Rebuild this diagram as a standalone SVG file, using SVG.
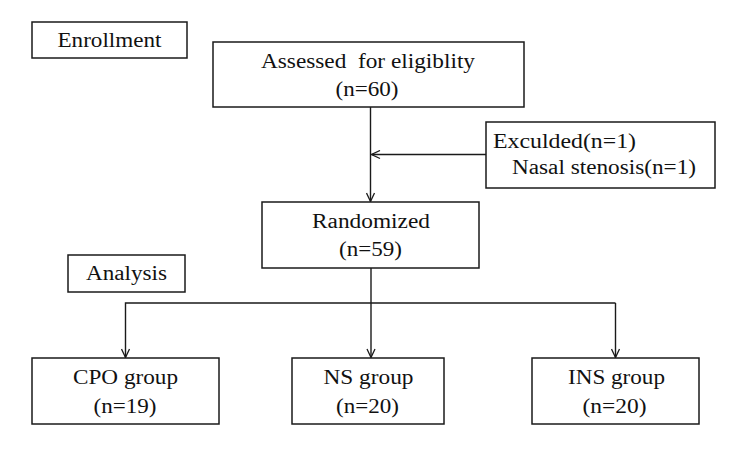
<svg xmlns="http://www.w3.org/2000/svg" width="750" height="455" viewBox="0 0 750 455">
  <style>
    .box { fill: #ffffff; stroke: #1a1a1a; stroke-width: 1.5; }
    .wire { fill: none; stroke: #1a1a1a; stroke-width: 1.4; }
  </style>
  <defs>
    <marker id="arrow" viewBox="0 0 10 10" refX="9.5" refY="5" markerWidth="10" markerHeight="10" markerUnits="userSpaceOnUse" orient="auto">
      <path d="M1,1 L9.5,5 L1,9" fill="none" stroke="#1a1a1a" stroke-width="1.3"/>
    </marker>
  </defs>
  <rect width="750" height="455" fill="#ffffff"/>

  <g font-family="'Liberation Serif', 'Times New Roman', serif" font-size="20" fill="#111111" text-anchor="middle">
    <!-- stage labels -->
    <g id="enrollment">
      <rect class="box" x="32" y="22" width="155" height="36"/>
      <text x="109.5" y="47" textLength="104" lengthAdjust="spacingAndGlyphs">Enrollment</text>
    </g>
    <g id="analysis">
      <rect class="box" x="68" y="255" width="117" height="37"/>
      <text x="126.5" y="280" textLength="81" lengthAdjust="spacingAndGlyphs">Analysis</text>
    </g>

    <!-- flow nodes -->
    <g id="assessed">
      <rect class="box" x="213" y="42" width="311" height="65"/>
      <text x="368" y="68" textLength="214" lengthAdjust="spacingAndGlyphs" xml:space="preserve">Assessed  for eligiblity</text>
      <text x="367" y="96" textLength="63" lengthAdjust="spacingAndGlyphs">(n=60)</text>
    </g>
    <g id="excluded">
      <rect class="box" x="486" y="122" width="229" height="66"/>
      <text x="493" y="148" text-anchor="start" textLength="143" lengthAdjust="spacingAndGlyphs">Exculded(n=1)</text>
      <text x="512" y="174" text-anchor="start" textLength="184" lengthAdjust="spacingAndGlyphs">Nasal stenosis(n=1)</text>
    </g>
    <g id="randomized">
      <rect class="box" x="262" y="202" width="217" height="66"/>
      <text x="371" y="227.5" textLength="118" lengthAdjust="spacingAndGlyphs">Randomized</text>
      <text x="370.5" y="256" textLength="63" lengthAdjust="spacingAndGlyphs">(n=59)</text>
    </g>
    <g id="cpo">
      <rect class="box" x="32" y="358" width="187" height="66"/>
      <text x="125.5" y="384" textLength="105" lengthAdjust="spacingAndGlyphs">CPO group</text>
      <text x="125" y="413" textLength="63" lengthAdjust="spacingAndGlyphs">(n=19)</text>
    </g>
    <g id="ns">
      <rect class="box" x="292" y="358" width="152" height="66"/>
      <text x="368.5" y="384" textLength="90" lengthAdjust="spacingAndGlyphs">NS group</text>
      <text x="367.5" y="413" textLength="63" lengthAdjust="spacingAndGlyphs">(n=20)</text>
    </g>
    <g id="ins">
      <rect class="box" x="532" y="358" width="167" height="66"/>
      <text x="616.5" y="384" textLength="97" lengthAdjust="spacingAndGlyphs">INS group</text>
      <text x="614.5" y="413" textLength="64" lengthAdjust="spacingAndGlyphs">(n=20)</text>
    </g>
  </g>

  <!-- connectors -->
  <g id="connectors">
    <path class="wire" d="M370.5,107 V201.5" marker-end="url(#arrow)"/>
    <path class="wire" d="M486,154.5 H371.5" marker-end="url(#arrow)"/>
    <path class="wire" d="M371,268 V357.5" marker-end="url(#arrow)"/>
    <path class="wire" d="M615.5,303 H125.5 V357.5" marker-end="url(#arrow)"/>
    <path class="wire" d="M615.5,303 V357.5" marker-end="url(#arrow)"/>
  </g>
</svg>
